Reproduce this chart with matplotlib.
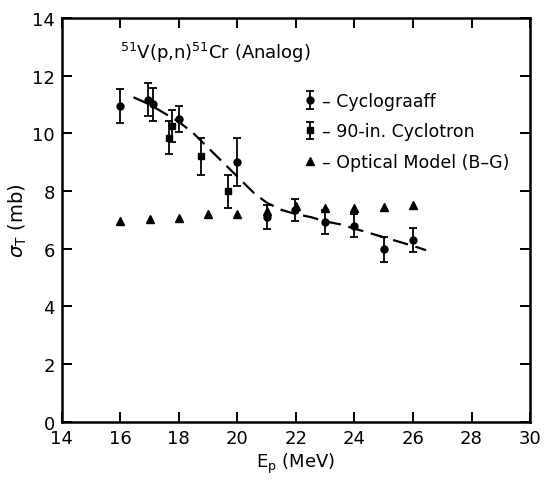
import numpy as np
import matplotlib.pyplot as plt

# Cyclograaff data (Ep in MeV, sigma in mb, error)
cyc_e = [16.0, 16.93, 17.1, 18.0, 19.98, 21.0, 21.98, 23.0, 23.98, 25.0, 25.99]
cyc_s = [10.95, 11.16, 11.0, 10.49, 9.0, 7.1, 7.35, 6.92, 6.8, 5.98, 6.3]
cyc_err = [0.58, 0.57, 0.58, 0.45, 0.83, 0.4, 0.38, 0.42, 0.4, 0.43, 0.42]

# 90-in. cyclotron data
c90_e = [17.67, 17.76, 18.75, 19.69]
c90_s = [9.85, 10.25, 9.2, 8.0]
c90_err = [0.58, 0.55, 0.63, 0.57]

# optical model (B-G)
om_e = [16, 17, 18, 19, 20, 21, 22, 23, 24, 25, 26]
om_s = [6.95, 7.04, 7.06, 7.2, 7.2, 7.3, 7.48, 7.42, 7.42, 7.46, 7.52]

# dashed curve
curve_e = [16.45, 17.0, 17.5, 18.0, 18.5, 19.0, 19.7, 20.2, 20.6, 21.0,
           21.5, 22.0, 22.5, 23.0, 23.5, 24.0, 24.5, 25.0, 25.5, 26.0, 26.45]
curve_s = [11.25, 11.0, 10.7, 10.4, 10.0, 9.5, 8.8, 8.3, 7.9, 7.6,
           7.35, 7.2, 7.1, 6.95, 6.85, 6.7, 6.55, 6.4, 6.25, 6.1, 5.95]

plt.rcParams['font.family'] = 'DejaVu Sans'
fig = plt.figure(figsize=(5.47, 4.85), dpi=100)
ax = fig.add_axes([0.113, 0.128, 0.856, 0.833])

ax.plot(curve_e, curve_s, color='k', lw=1.6, linestyle=(0, (7, 3.5)))

h1 = ax.errorbar(cyc_e, cyc_s, yerr=cyc_err, fmt='o', color='k', ms=5,
                 capsize=3, elinewidth=1.3, capthick=1.3)
h2 = ax.errorbar(c90_e, c90_s, yerr=c90_err, fmt='s', color='k', ms=4.5,
                 capsize=3, elinewidth=1.3, capthick=1.3)
h3, = ax.plot(om_e, om_s, '^', color='k', ms=5.5, ls='none')

ax.text(16.0, 12.6, r'$^{51}$V(p,n)$^{51}$Cr (Analog)', fontsize=13)

leg = ax.legend([h1, h2, h3],
                ['\u2013 Cyclograaff', '\u2013 90-in. Cyclotron', '\u2013 Optical Model (B\u2013G)'],
                loc='upper left', bbox_to_anchor=(0.5, 0.834), frameon=False,
                fontsize=12.5, handlelength=0.8, handletextpad=0.3, labelspacing=0.72,
                borderaxespad=0)

ax.set_xlim(14, 30)
ax.set_ylim(0, 14)
ax.set_xticks(np.arange(14, 31, 2))
ax.set_yticks(np.arange(0, 15, 2))
ax.tick_params(direction='in', length=7, width=1.4, labelsize=13,
               top=True, right=True, pad=5)
for s in ax.spines.values():
    s.set_linewidth(1.8)

ax.set_xlabel(r'E$_\mathrm{p}$ (MeV)', fontsize=13, labelpad=3)
ax.set_ylabel(r'$\sigma_\mathrm{T}$ (mb)', fontsize=14, labelpad=2)

fig.savefig('out.png', dpi=100)
